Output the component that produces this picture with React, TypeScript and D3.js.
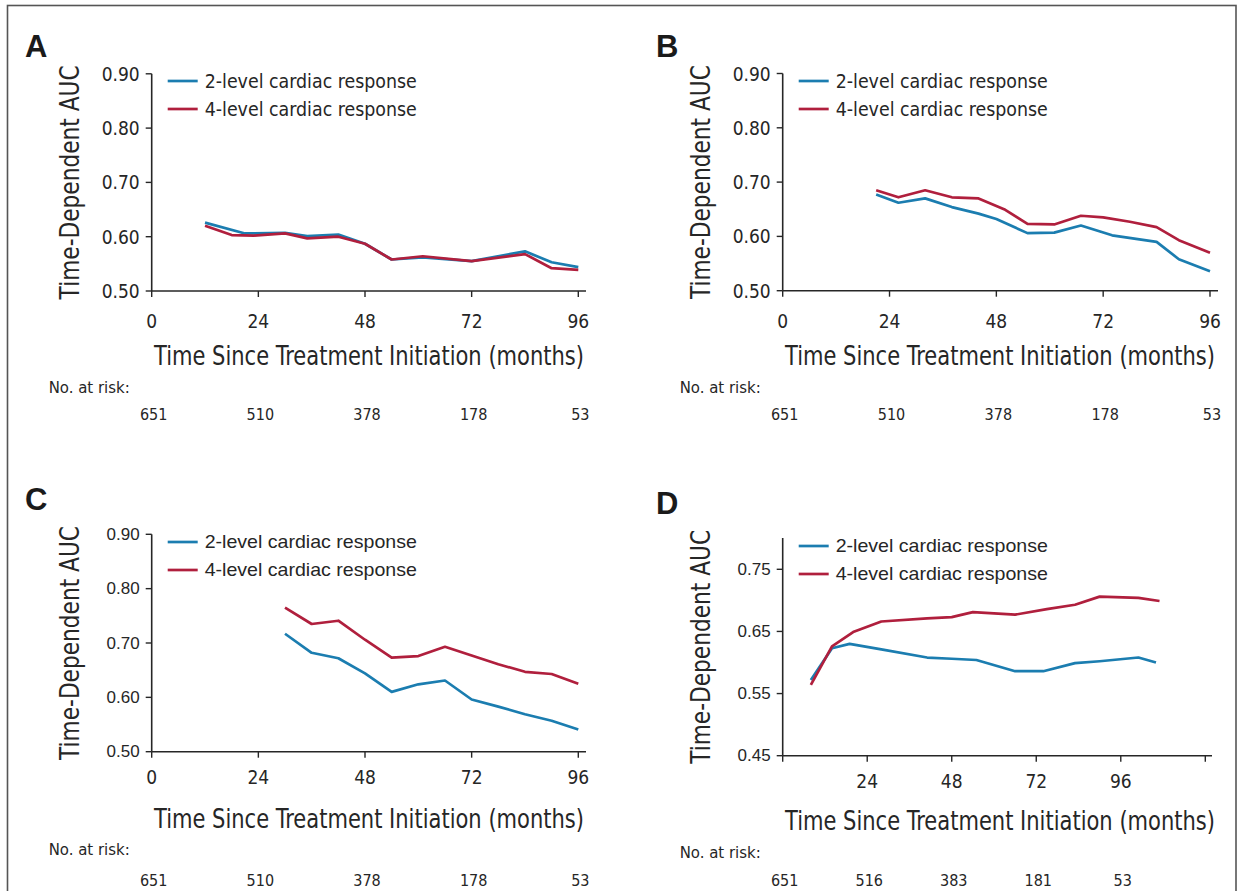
import React, { useLayoutEffect, useRef, useState } from "react";
import * as d3 from "d3";

// ---------- data ----------
const A_BLUE_MONTHS = [12, 21, 30, 35, 42, 48, 54, 61, 72, 84, 90, 96];
const A_BLUE_AUC = [0.626, 0.606, 0.607, 0.601, 0.604, 0.587, 0.558, 0.562, 0.555, 0.573, 0.553, 0.544];
const A_RED_MONTHS = [12, 18, 23, 30, 35, 42, 48, 54, 61, 72, 84, 90, 96];
const A_RED_AUC = [0.62, 0.603, 0.602, 0.606, 0.597, 0.6, 0.587, 0.558, 0.564, 0.555, 0.568, 0.542, 0.539];

const B_BLUE_MONTHS = [21, 26, 32, 38, 44, 48, 55, 61, 67, 74, 84, 89, 96];
const B_BLUE_AUC = [0.677, 0.662, 0.67, 0.654, 0.642, 0.632, 0.606, 0.607, 0.62, 0.602, 0.59, 0.558, 0.536];
const B_RED_MONTHS = [21, 26, 32, 38, 44, 50, 55, 61, 67, 72, 78, 84, 89, 96];
const B_RED_AUC = [0.685, 0.672, 0.685, 0.672, 0.67, 0.649, 0.623, 0.622, 0.638, 0.635, 0.627, 0.617, 0.593, 0.57];

const C_MONTHS = [30, 36, 42, 48, 54, 60, 66, 72, 78, 84, 90, 96];
const C_BLUE_AUC = [0.717, 0.682, 0.672, 0.644, 0.61, 0.624, 0.631, 0.596, 0.583, 0.569, 0.557, 0.541];
const C_RED_AUC = [0.765, 0.735, 0.741, 0.706, 0.673, 0.676, 0.693, 0.677, 0.661, 0.647, 0.643, 0.625];

const D_BLUE_MONTHS = [8, 14, 19, 28, 41, 48, 55, 66, 74, 83, 90, 101, 106];
const D_BLUE_AUC = [0.572, 0.623, 0.63, 0.621, 0.608, 0.606, 0.604, 0.586, 0.586, 0.599, 0.602, 0.608, 0.6];
const D_RED_MONTHS = [8, 14, 20, 28, 41, 48, 54, 66, 75, 83, 90, 101, 107];
const D_RED_AUC = [0.564, 0.626, 0.649, 0.666, 0.671, 0.673, 0.681, 0.677, 0.686, 0.693, 0.706, 0.704, 0.699];

const X_TICKS_ABC = [0, 24, 48, 72, 96];
const X_TICKS_D = [0, 24, 48, 72, 96, 120];
const X_LABELS_D = [24, 48, 72, 96];
const Y_TICKS_ABC = [0.5, 0.6, 0.7, 0.8, 0.9];
const Y_TICKS_D = [0.45, 0.55, 0.65, 0.75];
const RISK_MONTHS = [0, 24, 48, 72, 96];
const RISK_ABC = ["651", "510", "378", "178", "53"];
const RISK_D = ["651", "516", "383", "181", "53"];

const SERIES_NAMES = ["2-level cardiac response", "4-level cardiac response"];
const X_TITLE = "Time Since Treatment Initiation (months)";
const Y_TITLE = "Time-Dependent AUC";
const BLUE = "#1b7db0";
const RED = "#b01f3d";
const INK = "#262626";

const NARROW = "'Liberation Sans Narrow', 'Arial Narrow', 'DejaVu Sans Condensed', sans-serif";
const REG = "'Liberation Sans', Arial, Helvetica, sans-serif";

// text squeezed horizontally (via transform) to a target width
function FitText({
  x, y, rotate = 0, width, fontSize, fontFamily, anchor = "middle", children,
}: {
  x: number; y: number; rotate?: number; width: number; fontSize: number;
  fontFamily: string; anchor?: string; children: string;
}) {
  const ref = useRef<SVGTextElement>(null);
  const [sx, setSx] = useState(0.75);
  useLayoutEffect(() => {
    if (ref.current) {
      const len = ref.current.getComputedTextLength();
      if (len > 0) setSx(width / len);
    }
  }, [width, children, fontSize, fontFamily]);
  return (
    <text
      ref={ref}
      transform={`translate(${x},${y}) rotate(${rotate}) scale(${sx},1)`}
      textAnchor={anchor}
      dominantBaseline="central"
      fontFamily={fontFamily}
      fontSize={fontSize}
      fill={INK}
    >
      {children}
    </text>
  );
}

type Panel = {
  letter: string;
  lx: number; ly: number;
  x0: number; x1: number; xEnd: number; xDomain: [number, number];
  y0: number; y1: number; yDomain: [number, number]; yTop: number;
  xTicks: number[]; xLabels: number[]; yTicks: number[];
  blue: { m: number[]; v: number[] };
  red: { m: number[]; v: number[] };
  risk: string[];
  legY: number;
  tickFont: string; legFont: string; yTickFont: string;
  xLabelY: number; titleX: number; titleY: number; riskLabelY: number; riskY: number;
  yLabelX: number;
};

const panels: Panel[] = [
  {
    letter: "A", lx: 25, ly: 57,
    x0: 151.7, x1: 578.3, xEnd: 586, xDomain: [0, 96],
    y0: 291, y1: 73.8, yDomain: [0.5, 0.9], yTop: 73.8,
    xTicks: X_TICKS_ABC, xLabels: X_TICKS_ABC, yTicks: Y_TICKS_ABC,
    blue: { m: A_BLUE_MONTHS, v: A_BLUE_AUC },
    red: { m: A_RED_MONTHS, v: A_RED_AUC },
    risk: RISK_ABC, legY: 81,
    tickFont: NARROW, legFont: NARROW, yTickFont: NARROW,
    xLabelY: 321, titleX: 369, titleY: 356, riskLabelY: 388, riskY: 414, yLabelX: 70,
  },
  {
    letter: "B", lx: 656, ly: 57,
    x0: 782.7, x1: 1210, xEnd: 1218, xDomain: [0, 96],
    y0: 290.7, y1: 73.5, yDomain: [0.5, 0.9], yTop: 73.5,
    xTicks: X_TICKS_ABC, xLabels: X_TICKS_ABC, yTicks: Y_TICKS_ABC,
    blue: { m: B_BLUE_MONTHS, v: B_BLUE_AUC },
    red: { m: B_RED_MONTHS, v: B_RED_AUC },
    risk: RISK_ABC, legY: 81,
    tickFont: NARROW, legFont: NARROW, yTickFont: NARROW,
    xLabelY: 321, titleX: 1000, titleY: 356, riskLabelY: 388, riskY: 414, yLabelX: 701,
  },
  {
    letter: "C", lx: 25, ly: 510,
    x0: 151.7, x1: 578.3, xEnd: 586, xDomain: [0, 96],
    y0: 751.7, y1: 534.3, yDomain: [0.5, 0.9], yTop: 534.3,
    xTicks: X_TICKS_ABC, xLabels: X_TICKS_ABC, yTicks: Y_TICKS_ABC,
    blue: { m: C_MONTHS, v: C_BLUE_AUC },
    red: { m: C_MONTHS, v: C_RED_AUC },
    risk: RISK_ABC, legY: 542,
    tickFont: NARROW, legFont: REG, yTickFont: REG,
    xLabelY: 777, titleX: 369, titleY: 819, riskLabelY: 850, riskY: 880, yLabelX: 70,
  },
  {
    letter: "D", lx: 656, ly: 514,
    x0: 782.7, x1: 1205.3, xEnd: 1212, xDomain: [0, 120],
    y0: 755.7, y1: 569.3, yDomain: [0.45, 0.75], yTop: 538,
    xTicks: X_TICKS_D, xLabels: X_LABELS_D, yTicks: Y_TICKS_D,
    blue: { m: D_BLUE_MONTHS, v: D_BLUE_AUC },
    red: { m: D_RED_MONTHS, v: D_RED_AUC },
    risk: RISK_D, legY: 546,
    tickFont: NARROW, legFont: REG, yTickFont: REG,
    xLabelY: 781, titleX: 1000, titleY: 821, riskLabelY: 853, riskY: 880, yLabelX: 701,
  },
];

function PanelView({ p }: { p: Panel }) {
  const x = d3.scaleLinear().domain(p.xDomain).range([p.x0, p.x1]);
  const y = d3.scaleLinear().domain(p.yDomain).range([p.y0, p.y1]);
  const line = d3
    .line<[number, number]>()
    .x((d) => x(d[0]))
    .y((d) => y(d[1]));
  const bluePts = p.blue.m.map((m, i) => [m, p.blue.v[i]] as [number, number]);
  const redPts = p.red.m.map((m, i) => [m, p.red.v[i]] as [number, number]);
  const fmt = d3.format(".2f");
  const yMid = (p.yTop + p.y0) / 2;
  return (
    <g>
      <text x={p.lx} y={p.ly} fontFamily={REG} fontWeight="bold" fontSize={31} fill="#1a1a1a">
        {p.letter}
      </text>
      <FitText x={p.yLabelX} y={yMid} rotate={-90} width={234} fontSize={27} fontFamily={NARROW}>
        {Y_TITLE}
      </FitText>
      <line x1={p.x0} x2={p.x0} y1={p.yTop} y2={p.y0} stroke={INK} strokeWidth={1.6} />
      <line x1={p.x0} x2={p.xEnd} y1={p.y0} y2={p.y0} stroke={INK} strokeWidth={1.6} />
      {p.yTicks.map((t) => (
        <g key={"y" + t}>
          <line x1={p.x0 - 6} x2={p.x0} y1={y(t)} y2={y(t)} stroke={INK} strokeWidth={1.4} />
          <text
            x={p.x0 - 12}
            y={y(t)}
            textAnchor="end"
            dominantBaseline="central"
            fontFamily={p.yTickFont}
            fontSize={p.yTickFont === REG ? 17 : 19}
            fill={INK}
          >
            {fmt(t)}
          </text>
        </g>
      ))}
      {p.xTicks.map((t) => (
        <line key={"xt" + t} x1={x(t)} x2={x(t)} y1={p.y0} y2={p.y0 + 6} stroke={INK} strokeWidth={1.4} />
      ))}
      {p.xLabels.map((t) => (
        <text
          key={"xl" + t}
          x={x(t)}
          y={p.xLabelY}
          textAnchor="middle"
          dominantBaseline="central"
          fontFamily={p.tickFont}
          fontSize={19}
          fill={INK}
        >
          {t}
        </text>
      ))}
      <FitText x={p.titleX} y={p.titleY} width={430} fontSize={27} fontFamily={NARROW}>
        {X_TITLE}
      </FitText>
      <FitText x={p.x0 - 103} y={p.riskLabelY} width={81} fontSize={16} fontFamily={NARROW} anchor="start">
        No. at risk:
      </FitText>
      {RISK_MONTHS.map((m, i) => (
        <text
          key={"r" + m}
          x={x(m) + 2}
          y={p.riskY}
          textAnchor="middle"
          dominantBaseline="central"
          fontFamily={NARROW}
          fontSize={16}
          fill={INK}
        >
          {p.risk[i]}
        </text>
      ))}
      <path d={line(bluePts) || ""} fill="none" stroke={BLUE} strokeWidth={2.7} strokeLinejoin="round" />
      <path d={line(redPts) || ""} fill="none" stroke={RED} strokeWidth={2.7} strokeLinejoin="round" />
      {SERIES_NAMES.map((name, i) => (
        <g key={name}>
          <line
            x1={p.x0 + 16}
            x2={p.x0 + 46}
            y1={p.legY + i * 28}
            y2={p.legY + i * 28}
            stroke={i === 0 ? BLUE : RED}
            strokeWidth={2.7}
          />
          <FitText
            x={p.x0 + 53}
            y={p.legY + i * 28}
            width={212}
            fontSize={p.legFont === REG ? 18 : 20}
            fontFamily={p.legFont}
            anchor="start"
          >
            {name}
          </FitText>
        </g>
      ))}
    </g>
  );
}

export default function App() {
  return (
    <svg
      width={1242}
      height={891}
      style={{ position: "absolute", left: 0, top: 0, background: "#fff" }}
    >
      <rect x={0} y={0} width={1242} height={891} fill="#fff" />
      <rect x={7.5} y={5.5} width={1228.5} height={900} fill="none" stroke="#555" strokeWidth={1.6} />
      {panels.map((p) => (
        <PanelView key={p.letter} p={p} />
      ))}
    </svg>
  );
}
